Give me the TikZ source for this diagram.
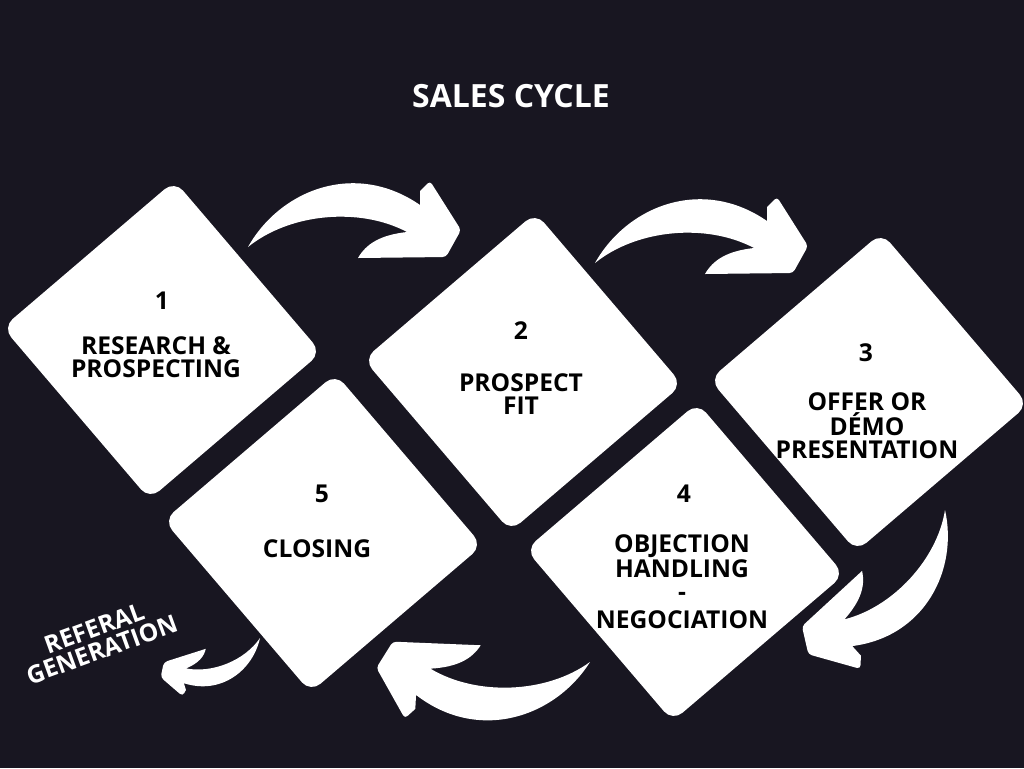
\documentclass[tikz,border=0pt]{standalone}
\usepackage{fontspec}
\setmainfont{Open Sans}
\usepackage{tikz}
\usetikzlibrary{positioning}
\definecolor{night}{RGB}{24,22,33}

% swoosh arrow, tail at the origin, pointing to the right
\newcommand{\salesarrow}[1]{%
	\fill[white,#1] (0,0) .. controls (32,-57) and (107,-87) .. (172,-42)
		-- (172,-56) [rounded corners=2pt] -- (182,-66) -- (213,-17) -- (198,10) [sharp corners] -- (110,11)
		.. controls (118,-3) and (132,-12) .. (159,-15)
		.. controls (112,-40) and (42,-34) .. (0,0) -- cycle;}

\begin{document}
\begin{tikzpicture}[x=0.02cm, y=-0.02cm,
	card/.style={draw=none, fill=white, rectangle, rounded corners=7.4pt, minimum size=4.52cm, inner sep=0pt, rotate=40.5},
	cardnum/.style={font=\bfseries\fontsize{14}{13}\selectfont, text=black},
	cardtext/.style={font=\bfseries\fontsize{14}{13}\selectfont, text=black, align=center, inner sep=0pt},
	title/.style={font=\bfseries\fontsize{18.2}{20}\selectfont, text=white}]
				\useasboundingbox (0,0) rectangle (1024,768);
				\fill[night] (0,0) rectangle (1024,768);
				
				% Title
				\node[title] (title) at (511,96) {SALES CYCLE};
				
				% Cards
				\node[card] (s1) at (162,340) {};
				\node[card] (s2) at (523,372) {};
				\node[card] (s3) at (869,392) {};
				\node[card] (s4) at (685,562) {};
				\node[card] (s5) at (323,533) {};
				
				% Card texts
				\node[cardnum] (n1) at (162,301) {1};
				\node[cardtext] (l1) at (156,357) {RESEARCH \&\\PROSPECTING};
				\node[cardnum] (n2) at (521,331) {2};
				\node[cardtext] (l2) at (521,394) {PROSPECT\\FIT};
				\node[cardnum] (n3) at (866,353) {3};
				\node[cardtext] (l3) at (867,426) {OFFER OR\\DÉMO\\PRESENTATION};
				\node[cardnum] (n4) at (684,494) {4};
				\node[cardtext] (l4) at (682,582) {OBJECTION\\HANDLING\\-\\[3pt]NEGOCIATION};
				\node[cardnum] (n5) at (322,494) {5};
				\node[cardtext] (l5) at (317,549) {CLOSING};
				
				% Arrows between the steps
				\salesarrow{shift={(248,247)}}
				\salesarrow{shift={(595,263)}}
				\salesarrow{shift={(945,510)}, rotate=-138, scale=0.93}
				\salesarrow{shift={(590,662)}, rotate=-183}
				\salesarrow{shift={(260,638)}, rotate=-163, scale=0.5}
				
				% Referral
				\node[cardtext, text=white, rotate=20] (ref) at (98,639) {REFERAL\\GENERATION};
				
\end{tikzpicture}
\end{document}
